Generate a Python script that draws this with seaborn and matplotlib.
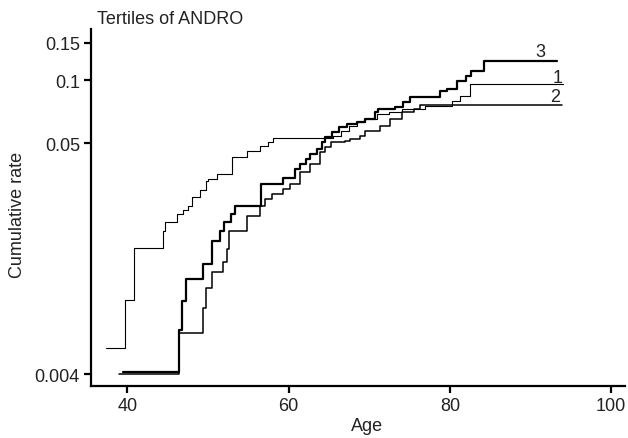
import matplotlib
matplotlib.use("Agg")
import matplotlib.pyplot as plt
import seaborn as sns

# step curves: age where each step starts, cumulative rate from that age on
age_1 = [37.4, 39.75, 40.87, 44.4, 44.7, 46.2, 46.9, 47.5, 48.05, 49.05, 49.7, 50.05,
         51.15, 53.0, 54.9, 56.5, 57.5, 58.1, 65.5, 66.5, 67.5, 68.5, 69.5, 71.0,
         72.5, 74.0, 76.9, 80.3, 81.3, 82.5, 94.0]
rate_1 = [0.00535, 0.00906, 0.01585, 0.0191, 0.0211, 0.0230, 0.0241, 0.0251, 0.0277,
          0.0300, 0.0331, 0.0338, 0.0357, 0.0430, 0.0459, 0.0485, 0.0507, 0.0530,
          0.0541, 0.0572, 0.0604, 0.0631, 0.0652, 0.0689, 0.0705, 0.0728, 0.0752,
          0.0794, 0.0839, 0.0957, 0.0957]

age_2 = [39.0, 46.35, 49.4, 49.7, 50.5, 51.9, 52.4, 52.6, 54.9, 56.5, 57.1, 58.0,
         59.3, 60.2, 61.4, 62.7, 63.9, 64.5, 65.2, 67.0, 67.6, 68.9, 69.5, 71.3,
         72.6, 74.0, 75.5, 76.3, 93.9]
rate_2 = [0.0040, 0.0063, 0.0083, 0.0103, 0.0122, 0.0137, 0.0157, 0.0191, 0.0225,
          0.0251, 0.0271, 0.0287, 0.0303, 0.0320, 0.0365, 0.0398, 0.0454, 0.0480,
          0.0507, 0.0512, 0.0524, 0.0541, 0.0572, 0.0604, 0.0652, 0.0705, 0.0728,
          0.0760, 0.0760]

age_3 = [39.5, 46.35, 46.8, 47.3, 49.4, 50.5, 51.5, 52.0, 52.8, 53.4, 56.6, 59.3,
         60.8, 61.4, 62.1, 62.7, 63.5, 64.2, 64.5, 65.4, 66.2, 67.3, 68.5, 69.5,
         70.7, 71.1, 73.2, 74.2, 75.1, 78.8, 79.7, 80.9, 82.0, 82.6, 84.2, 93.3]
rate_3 = [0.00411, 0.00652, 0.00887, 0.01128, 0.0133, 0.0171, 0.0191, 0.0211, 0.0230,
          0.0251, 0.0320, 0.0341, 0.0377, 0.0398, 0.0421, 0.0445, 0.0469, 0.0507,
          0.0535, 0.0565, 0.0597, 0.0617, 0.0631, 0.0652, 0.0705, 0.0728, 0.0744,
          0.0786, 0.0830, 0.0887, 0.0906, 0.0989, 0.1045, 0.1104, 0.1231, 0.1231]

curve_labels = ["1", "2", "3"]
label_pos = [(93.4, 0.1033), (93.1, 0.0839), (91.2, 0.136)]

y_ticks = [0.004, 0.05, 0.1, 0.15]
y_ticklabels = ["0.004", "0.05", "0.1", "0.15"]
x_ticks = [40, 60, 80, 100]

sns.set_style("ticks")
plt.rcParams["font.family"] = ["Liberation Sans", "DejaVu Sans"]

fig = plt.figure(figsize=(6.28, 4.39), dpi=100)
ax = fig.add_axes([0.145, 0.118, 0.85, 0.814])

widths = [0.8, 1.1, 1.6]
for ages, rates, lw in zip([age_1, age_2, age_3], [rate_1, rate_2, rate_3], widths):
    sns.lineplot(x=ages, y=rates, ax=ax, color="black", linewidth=lw,
                 drawstyle="steps-post", estimator=None, sort=False)

for lab, (x, y) in zip(curve_labels, label_pos):
    ax.text(x, y, lab, fontsize=13, color="#222222", ha="center", va="center")

ax.set_yscale("log")
ax.set_xlim(35.5, 101.7)
ax.set_ylim(0.00351, 0.175)
ax.set_yticks(y_ticks)
ax.set_yticklabels(y_ticklabels)
ax.yaxis.set_minor_locator(matplotlib.ticker.NullLocator())
ax.set_xticks(x_ticks)

for s in ["left", "bottom"]:
    ax.spines[s].set_linewidth(1.6)
    ax.spines[s].set_color("black")
sns.despine(ax=ax)
ax.tick_params(axis="both", length=5, width=1.6, color="black",
               labelsize=13, labelcolor="#222222", pad=3)

ax.set_xlabel("")
ax.set_ylabel("")
fig.text(97 / 628, 1 - 19 / 439, "Tertiles of ANDRO", fontsize=13,
         color="#222222", ha="left", va="center")
fig.text(18 / 628, 1 - 215 / 439, "Cumulative rate", fontsize=13,
         color="#222222", ha="center", va="center", rotation=90)
fig.text(367 / 628, 1 - 427 / 439, "Age", fontsize=13,
         color="#222222", ha="center", va="center")

fig.savefig("out.png", dpi=100)
